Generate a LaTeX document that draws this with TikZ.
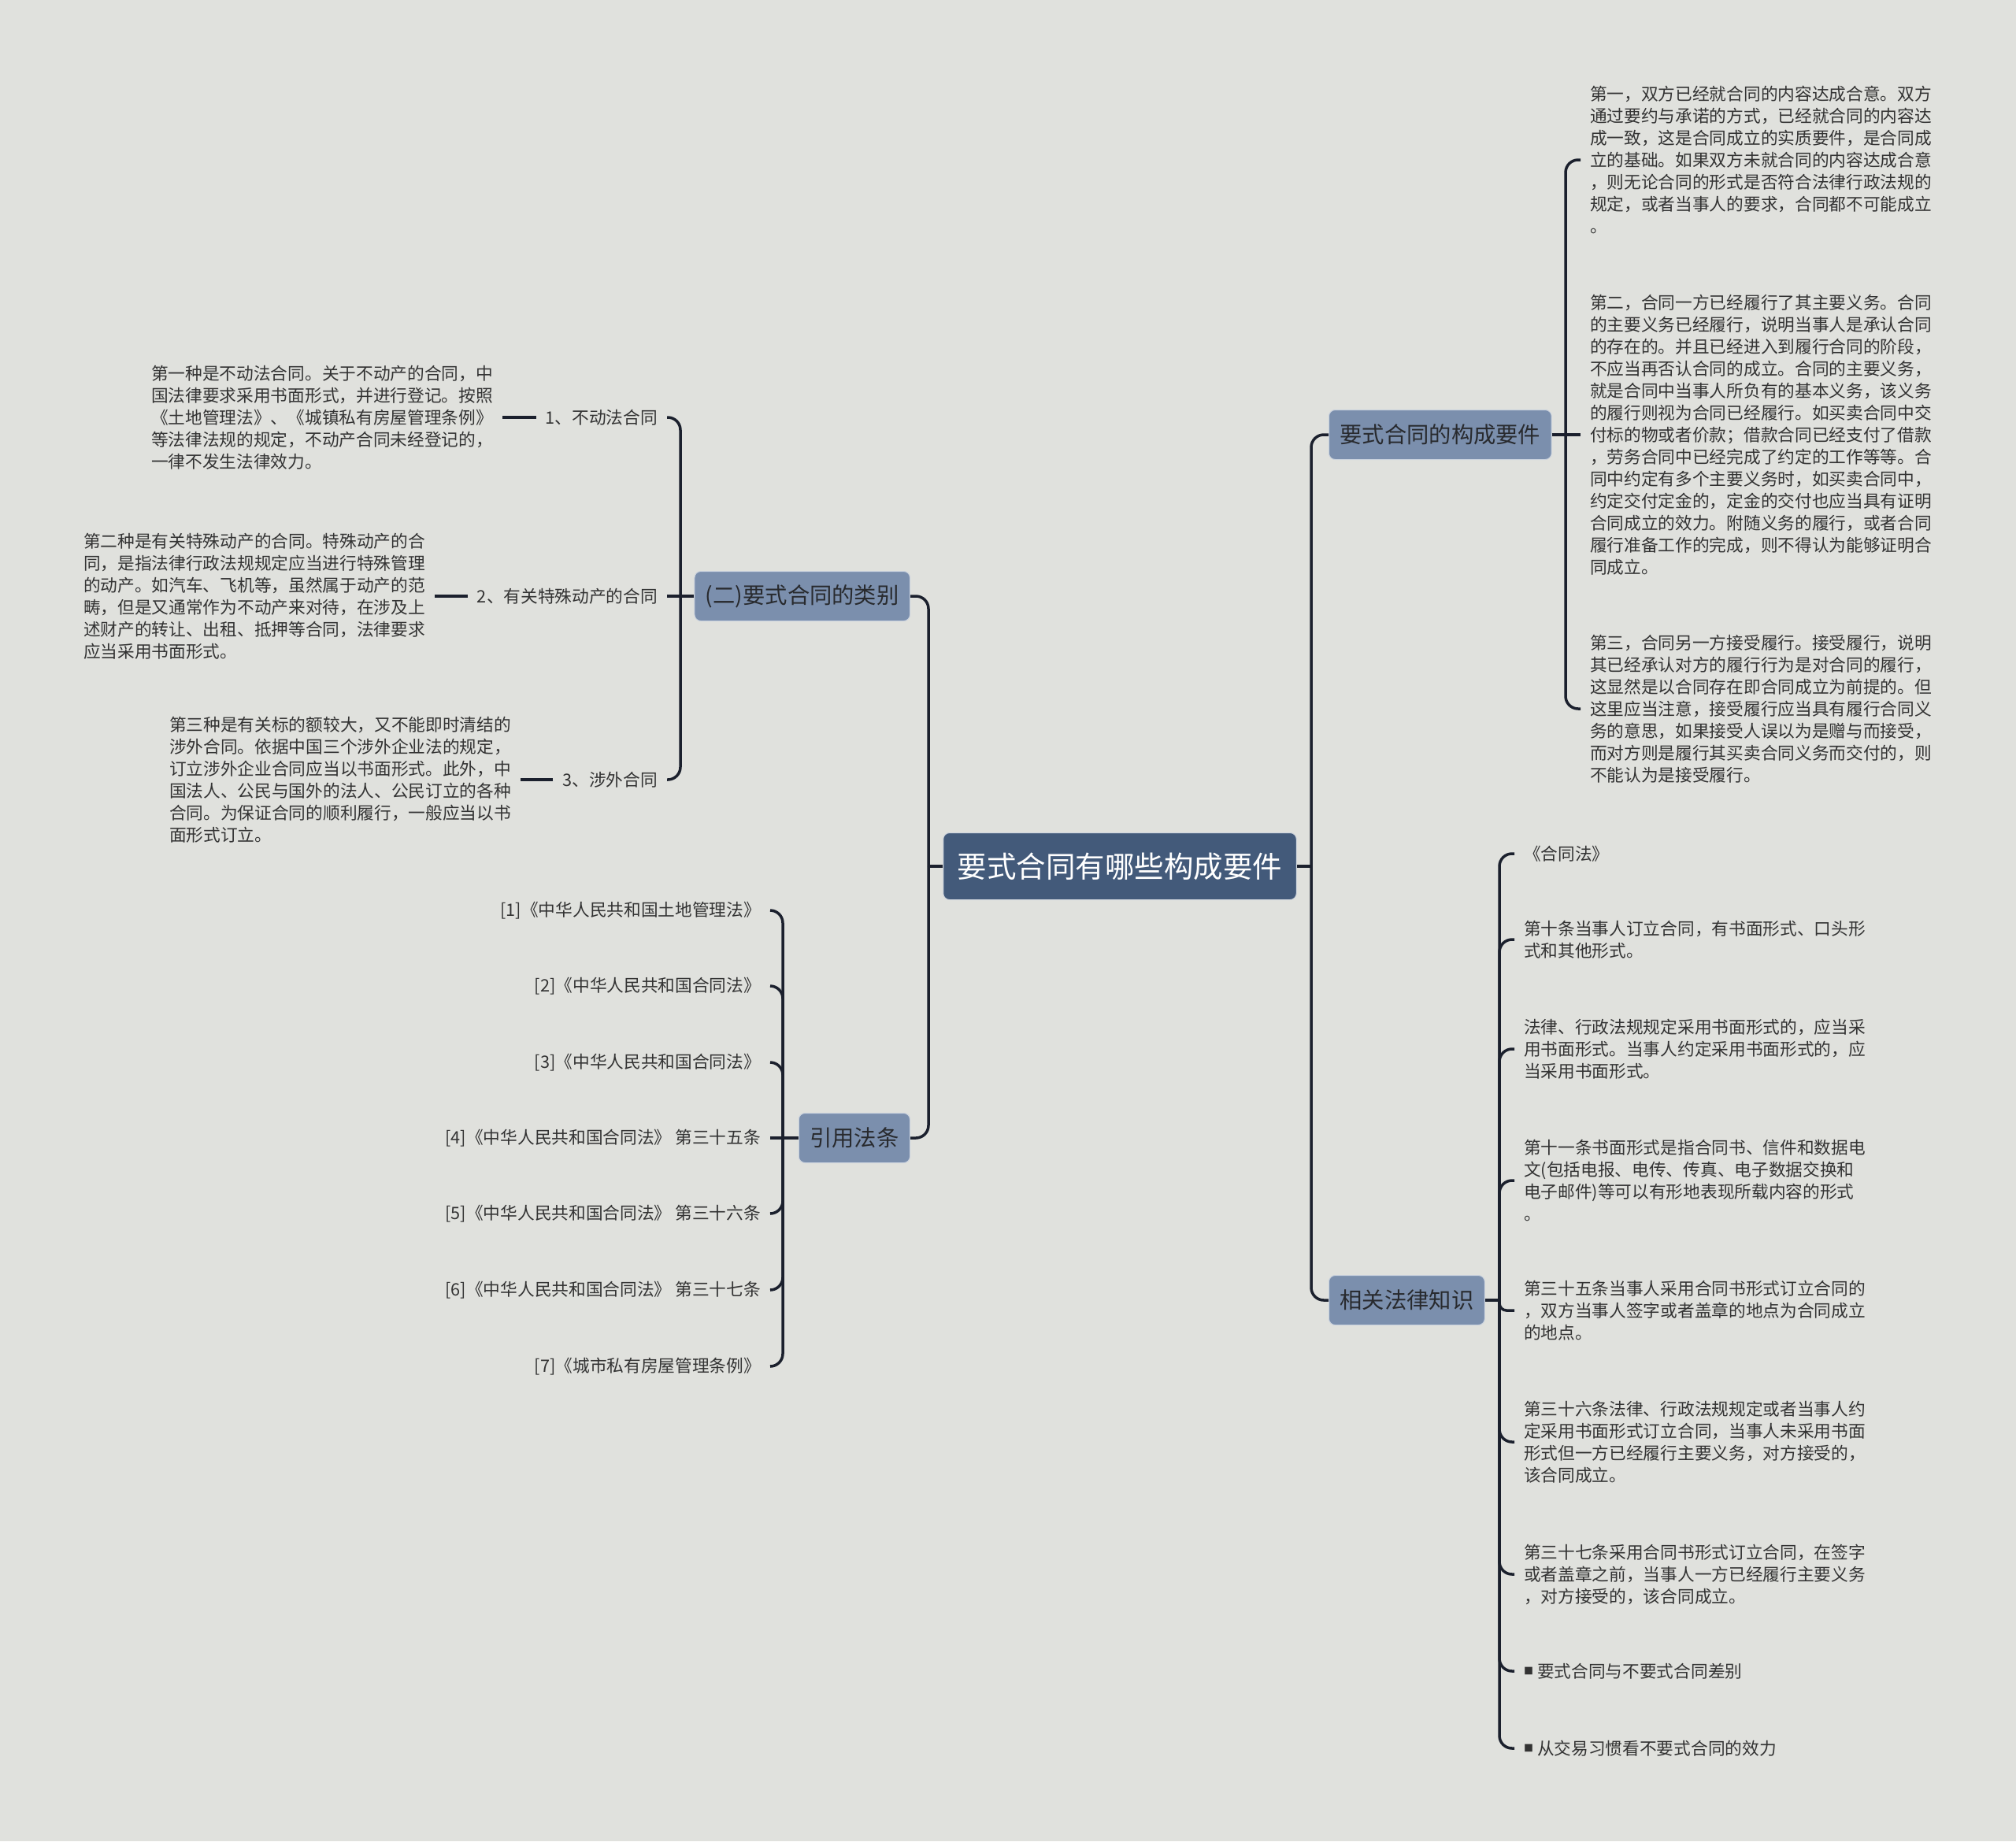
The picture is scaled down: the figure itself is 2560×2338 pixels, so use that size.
\documentclass[tikz,border=0pt]{standalone}
\usepackage{fontspec}
\setmainfont{Noto Sans CJK SC}
\definecolor{bgc}{RGB}{224,225,221}
\definecolor{linec}{RGB}{27,32,45}
\definecolor{rootc}{RGB}{67,90,122}
\definecolor{lvc}{RGB}{123,143,173}
\definecolor{txc}{RGB}{51,51,51}
\definecolor{lvtx}{RGB}{40,42,46}
\begin{document}
\begin{tikzpicture}[x=1pt,y=-1pt,
  rootnode/.style={fill=rootc, draw=white!75!rootc, line width=1pt, rounded corners=8pt, text=white,
    font=\fontsize{37.5}{45}\selectfont, inner xsep=18pt, inner ysep=0pt, minimum height=85pt},
  lvnode/.style={fill=lvc, draw=white!60!lvc, line width=1pt, rounded corners=8pt, text=lvtx,
    font=\fontsize{28.3}{34}\selectfont, inner xsep=14pt, inner ysep=0pt, minimum height=63pt},
  para/.style={text=txc, font=\fontsize{21.7}{28}\selectfont, align=left, inner sep=0pt, outer sep=12pt},
  conn/.style={draw=linec, line width=3.5pt, rounded corners=16pt}]
\useasboundingbox (0,0) rectangle (2560,2338);
\fill[bgc] (0,0) rectangle (2560,2338);

% main nodes
\node[rootnode] (root) at (1422,1100) {要式合同有哪些构成要件};
\node[lvnode, anchor=east] (cat) at (1156,757) {(二)要式合同的类别};
\node[lvnode, anchor=east] (ref) at (1156,1445) {引用法条};
\node[lvnode, anchor=west] (req) at (1687,552) {要式合同的构成要件};
\node[lvnode, anchor=west] (law) at (1687,1651) {相关法律知识};

% category branch
\node[para, anchor=east] (l1) at (847,530) {1、不动法合同};
\node[para, anchor=east] (l2) at (847,757) {2、有关特殊动产的合同};
\node[para, anchor=east] (l3) at (847,990) {3、涉外合同};
\node[para, anchor=east] (p1) at (638,530) {第一种是不动法合同。关于不动产的合同，中\\国法律要求采用书面形式，并进行登记。按照\\《土地管理法》、《城镇私有房屋管理条例》\\等法律法规的规定，不动产合同未经登记的，\\一律不发生法律效力。};
\node[para, anchor=east] (p2) at (552,757) {第二种是有关特殊动产的合同。特殊动产的合\\同，是指法律行政法规规定应当进行特殊管理\\的动产。如汽车、飞机等，虽然属于动产的范\\畴，但是又通常作为不动产来对待，在涉及上\\述财产的转让、出租、抵押等合同，法律要求\\应当采用书面形式。};
\node[para, anchor=east] (p3) at (661,990) {第三种是有关标的额较大，又不能即时清结的\\涉外合同。依据中国三个涉外企业法的规定，\\订立涉外企业合同应当以书面形式。此外，中\\国法人、公民与国外的法人、公民订立的各种\\合同。为保证合同的顺利履行，一般应当以书\\面形式订立。};

% references branch
\node[para, anchor=east] (r1) at (978,1156) {[1]《中华人民共和国土地管理法》};
\node[para, anchor=east] (r2) at (978,1252) {[2]《中华人民共和国合同法》};
\node[para, anchor=east] (r3) at (978,1349) {[3]《中华人民共和国合同法》};
\node[para, anchor=east] (r4) at (978,1445) {[4]《中华人民共和国合同法》 第三十五条};
\node[para, anchor=east] (r5) at (978,1541) {[5]《中华人民共和国合同法》 第三十六条};
\node[para, anchor=east] (r6) at (978,1638) {[6]《中华人民共和国合同法》 第三十七条};
\node[para, anchor=east] (r7) at (978,1735) {[7]《城市私有房屋管理条例》};

% requirements branch
\node[para, anchor=west] (a1) at (2007,203) {第一，双方已经就合同的内容达成合意。双方\\通过要约与承诺的方式，已经就合同的内容达\\成一致，这是合同成立的实质要件，是合同成\\立的基础。如果双方未就合同的内容达成合意\\，则无论合同的形式是否符合法律行政法规的\\规定，或者当事人的要求，合同都不可能成立\\。};
\node[para, anchor=west] (a2) at (2007,552) {第二，合同一方已经履行了其主要义务。合同\\的主要义务已经履行，说明当事人是承认合同\\的存在的。并且已经进入到履行合同的阶段，\\不应当再否认合同的成立。合同的主要义务，\\就是合同中当事人所负有的基本义务，该义务\\的履行则视为合同已经履行。如买卖合同中交\\付标的物或者价款；借款合同已经支付了借款\\，劳务合同中已经完成了约定的工作等等。合\\同中约定有多个主要义务时，如买卖合同中，\\约定交付定金的，定金的交付也应当具有证明\\合同成立的效力。附随义务的履行，或者合同\\履行准备工作的完成，则不得认为能够证明合\\同成立。};
\node[para, anchor=west] (a3) at (2007,900) {第三，合同另一方接受履行。接受履行，说明\\其已经承认对方的履行行为是对合同的履行，\\这显然是以合同存在即合同成立为前提的。但\\这里应当注意，接受履行应当具有履行合同义\\务的意思，如果接受人误以为是赠与而接受，\\而对方则是履行其买卖合同义务而交付的，则\\不能认为是接受履行。};

% law branch
\node[para, anchor=west] (b1) at (1923,1084) {《合同法》};
\node[para, anchor=west] (b2) at (1923,1193) {第十条当事人订立合同，有书面形式、口头形\\式和其他形式。};
\node[para, anchor=west] (b3) at (1923,1332) {法律、行政法规规定采用书面形式的，应当采\\用书面形式。当事人约定采用书面形式的，应\\当采用书面形式。};
\node[para, anchor=west] (b4) at (1923,1499) {第十一条书面形式是指合同书、信件和数据电\\文(包括电报、电传、传真、电子数据交换和\\电子邮件)等可以有形地表现所载内容的形式\\。};
\node[para, anchor=west] (b5) at (1923,1664) {第三十五条当事人采用合同书形式订立合同的\\，双方当事人签字或者盖章的地点为合同成立\\的地点。};
\node[para, anchor=west] (b6) at (1923,1831) {第三十六条法律、行政法规规定或者当事人约\\定采用书面形式订立合同，当事人未采用书面\\形式但一方已经履行主要义务，对方接受的，\\该合同成立。};
\node[para, anchor=west] (b7) at (1923,1999) {第三十七条采用合同书形式订立合同，在签字\\或者盖章之前，当事人一方已经履行主要义务\\，对方接受的，该合同成立。};
\node[para, anchor=west] (b8) at (1923,2122) {\raisebox{3.5pt}{\fontsize{12}{12}\selectfont ■}\hspace{5pt}要式合同与不要式合同差别};
\node[para, anchor=west] (b9) at (1923,2220) {\raisebox{3.5pt}{\fontsize{12}{12}\selectfont ■}\hspace{5pt}从交易习惯看不要式合同的效力};

% connectors: root
\draw[conn] (root.west) -- (1179,1100);
\draw[conn] (1179,1100) |- (cat.east);
\draw[conn] (1179,1100) |- (ref.east);
\draw[conn] (root.east) -- (1665,1100);
\draw[conn] (1665,1100) |- (req.west);
\draw[conn] (1665,1100) |- (law.west);

% category
\draw[conn] (cat.west) -- (864,757);
\draw[conn] (864,757) |- (l1.east);
\draw[conn] (864,757) -- (l2.east);
\draw[conn] (864,757) |- (l3.east);
\draw[conn] (l1.west) -- (p1.east);
\draw[conn] (l2.west) -- (p2.east);
\draw[conn] (l3.west) -- (p3.east);

% references
\draw[conn] (ref.west) -- (994,1445);
\foreach \n in {r1,r2,r3,r5,r6,r7} \draw[conn] (994,1445) |- (\n.east);
\draw[conn] (994,1445) -- (r4.east);

% requirements
\draw[conn] (req.east) -- (1988,552);
\draw[conn] (1988,552) |- (a1.west);
\draw[conn] (1988,552) -- (a2.west);
\draw[conn] (1988,552) |- (a3.west);

% law
\draw[conn] (law.east) -- (1904,1651);
\foreach \n in {b1,b2,b3,b4,b6,b7,b8,b9} \draw[conn] (1904,1651) |- (\n.west);
\draw[conn, rounded corners=9pt] (1904,1651) |- (b5.west);
\end{tikzpicture}
\end{document}
